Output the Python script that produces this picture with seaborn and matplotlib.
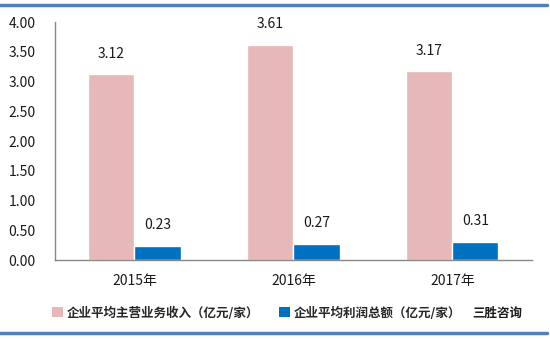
import matplotlib
matplotlib.use("Agg")
import matplotlib.pyplot as plt
from matplotlib.lines import Line2D
from matplotlib.patches import Patch
import seaborn as sns
import pandas as pd

years = ["2015年", "2016年", "2017年"]
revenue = [3.12, 3.61, 3.17]
profit = [0.23, 0.27, 0.31]
series_names = ["企业平均主营业务收入（亿元/家）", "企业平均利润总额（亿元/家）"]
y_ticks = [0.0, 0.5, 1.0, 1.5, 2.0, 2.5, 3.0, 3.5, 4.0]

sns.set_theme(style="white")
plt.rcParams["font.family"] = ["Noto Sans CJK SC", "DejaVu Sans"]

colors = ["#E6B8B7", "#0070C0"]

df = pd.DataFrame({
    "year": years * 2,
    "value": revenue + profit,
    "series": [series_names[0]] * 3 + [series_names[1]] * 3,
})

fig = plt.figure(figsize=(5.5, 3.39), dpi=100)
ax = fig.add_axes([0.1, 0.233, 0.867, 0.702])

sns.barplot(data=df, x="year", y="value", hue="series", palette=colors,
            width=0.58, ax=ax, legend=False, saturation=1)

for cont in ax.containers:
    ax.bar_label(cont, fmt="%.2f", padding=10, fontsize=10, color="#1a1a1a")

ax.set_ylim(0, 4.0)
ax.set_yticks(y_ticks)
ax.set_yticklabels([f"{v:.2f}" for v in y_ticks], fontsize=10, color="#1a1a1a")
ax.tick_params(axis="x", labelsize=10, colors="#1a1a1a", length=0, pad=10)
ax.tick_params(axis="y", length=0, pad=14)
ax.set_xlabel("")
ax.set_ylabel("")
sns.despine(ax=ax, top=True, right=True)
for s in ("left", "bottom"):
    ax.spines[s].set_color("#888888")
    ax.spines[s].set_linewidth(1.0)

handles = [Patch(facecolor=c, edgecolor="none") for c in colors]
leg = fig.legend(handles, series_names, ncol=2, loc="center left",
                 bbox_to_anchor=(0.085, 1 - 313 / 339), frameon=False,
                 prop={"size": 9, "weight": "bold"},
                 handlelength=0.9, handleheight=0.9, handletextpad=0.3,
                 columnspacing=1.6, borderaxespad=0)
fig.text(472 / 550, 1 - 313 / 339, "三胜咨询", fontsize=9, fontweight="bold",
         va="center", ha="left", color="#1a1a1a")

# decorative frame rules at top and bottom
for yy in (1 - 5 / 339, 1 - 333 / 339):
    fig.add_artist(Line2D([0.0, 0.995], [yy, yy], transform=fig.transFigure,
                          color="#4F81BD", linewidth=2.5))

fig.savefig("out.png", dpi=100)
